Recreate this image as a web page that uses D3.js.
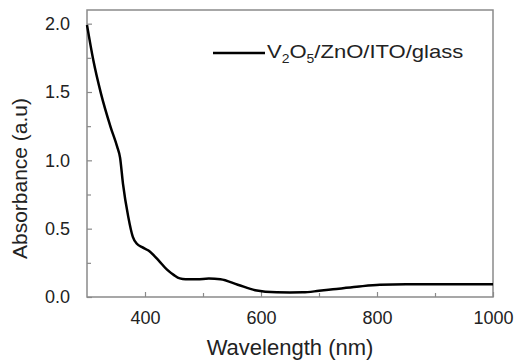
<!DOCTYPE html>
<html><head><meta charset="utf-8">
<script src="https://cdn.jsdelivr.net/npm/d3@7"></script>
<style>body{margin:0;background:#fff}svg{display:block}text{font-family:"Liberation Sans",Arial,sans-serif;fill:#222}</style>
</head><body><svg id="c" width="514" height="361"></svg>
<script>
const wavelength = [300, 311, 324, 341, 352, 357, 362, 371, 379, 386, 395, 406, 423, 438, 450, 460, 470, 490, 510, 530, 560, 590, 627, 650, 672, 700, 724, 765, 805, 850, 900, 1000];
const absorbance = [1.99, 1.73, 1.49, 1.24, 1.10, 1.02, 0.83, 0.59, 0.44, 0.39, 0.365, 0.34, 0.27, 0.20, 0.16, 0.136, 0.13, 0.13, 0.135, 0.13, 0.09, 0.05, 0.034, 0.033, 0.034, 0.045, 0.056, 0.075, 0.09, 0.093, 0.093, 0.093];
const xTicks = [400, 600, 800, 1000];
const xMinor = [500, 700, 900];
const yTicks = [0, 0.5, 1.0, 1.5, 2.0];
const yMinor = [0.25, 0.75, 1.25, 1.75];
const legendLabel = "V2O5/ZnO/ITO/glass";

const svg = d3.select("#c");
const L = 87, R = 493, T = 10, B = 297;
const x = d3.scaleLinear().domain([300, 1000]).range([L, R]);
const y = d3.scaleLinear().domain([0, 2.1]).range([B, T]);
const frame = "#8a8a8a";

// frame
svg.append("rect").attr("x", L).attr("y", T).attr("width", R - L).attr("height", B - T)
  .attr("fill", "none").attr("stroke", frame).attr("stroke-width", 1.5);

// x axis
const xa = svg.append("g").attr("transform", `translate(0,${B})`)
  .call(d3.axisBottom(x).tickValues(xTicks).tickFormat(d3.format("d")).tickSizeInner(-5).tickSizeOuter(0).tickPadding(14));
xa.select(".domain").remove();
xa.selectAll("line").attr("stroke", frame).attr("stroke-width", 1.2);
xa.selectAll("text").attr("font-size", 18).attr("fill", "#222").attr("font-family", '"Liberation Sans",Arial,sans-serif');
svg.append("g").attr("transform", `translate(0,${B})`)
  .call(d3.axisBottom(x).tickValues(xMinor).tickFormat("").tickSizeInner(-4).tickSizeOuter(0))
  .call(g => { g.select(".domain").remove(); g.selectAll("line").attr("stroke", frame).attr("stroke-width", 1.2); });

// y axis
const ya = svg.append("g").attr("transform", `translate(${L},0)`)
  .call(d3.axisLeft(y).tickValues(yTicks).tickFormat(d3.format(".1f")).tickSizeInner(-5).tickSizeOuter(0).tickPadding(17));
ya.select(".domain").remove();
ya.selectAll("line").attr("stroke", frame).attr("stroke-width", 1.2);
ya.selectAll("text").attr("font-size", 18).attr("fill", "#222").attr("font-family", '"Liberation Sans",Arial,sans-serif');
svg.append("g").attr("transform", `translate(${L},0)`)
  .call(d3.axisLeft(y).tickValues(yMinor).tickFormat("").tickSizeInner(-4).tickSizeOuter(0))
  .call(g => { g.select(".domain").remove(); g.selectAll("line").attr("stroke", frame).attr("stroke-width", 1.2); });

// axis titles
svg.append("text").attr("x", (L + R) / 2).attr("y", 355).attr("text-anchor", "middle")
  .attr("font-size", 22).text("Wavelength (nm)");
svg.append("text").attr("transform", `translate(27,${(90 + 267) / 2}) rotate(-90)`).attr("text-anchor", "middle")
  .attr("font-size", 21).text("Absorbance (a.u)");

// data line
const data = wavelength.map((w, i) => ({ w, a: absorbance[i] }));
svg.append("path").datum(data)
  .attr("fill", "none").attr("stroke", "#000").attr("stroke-width", 2.5)
  .attr("d", d3.line().x(d => x(d.w)).y(d => y(d.a)).curve(d3.curveMonotoneX));

// legend
svg.append("line").attr("x1", 213).attr("x2", 265).attr("y1", 53).attr("y2", 53)
  .attr("stroke", "#000").attr("stroke-width", 2.5);
const lt = svg.append("g").attr("transform", "translate(267,58) scale(1.16,1)")
  .append("text").attr("x", 0).attr("y", 0).attr("font-size", 19);
const parts = legendLabel.match(/[A-Za-z\/]+|\d/g);
let shift = 0;
parts.forEach(p => {
  if (/^\d$/.test(p)) {
    lt.append("tspan").attr("font-size", 12).attr("dy", 5 - shift).text(p);
    shift = 5;
  } else {
    lt.append("tspan").attr("dy", -shift).text(p);
    shift = 0;
  }
});
</script></body></html>
